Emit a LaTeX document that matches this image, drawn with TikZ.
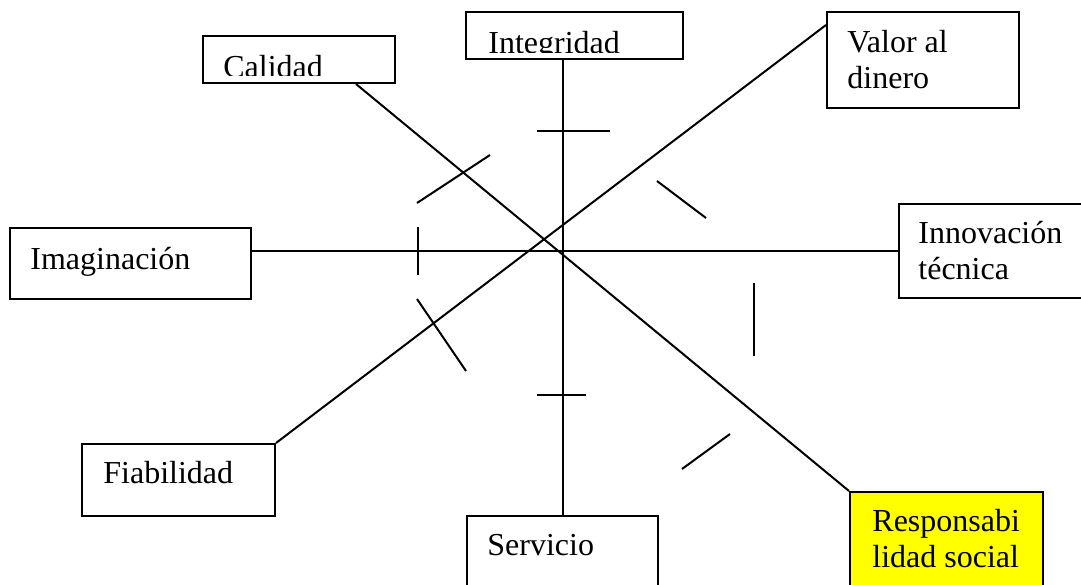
\documentclass[tikz,border=0pt]{standalone}
\usepackage{xcolor}
\usepackage{fontspec}
\setmainfont{Liberation Serif}
\usepackage{tikz}

\definecolor{respyellow}{RGB}{255,255,0}

\begin{document}
\begin{tikzpicture}[x=0.5pt,y=-0.5pt]
	\tikzstyle{box}=[draw,rectangle,line width=1pt,inner sep=0pt,anchor=north west]
	\tikzstyle{boxtext}=[inner sep=0pt,anchor=base west,align=left,font=\fontsize{16pt}{18pt}\selectfont]
	\tikzset{spoke/.style = {line width=1pt}, hatch/.style = {line width=1pt}}
	
	\useasboundingbox (0,0) rectangle (1081,584);
	\clip (0,0) rectangle (1081,584);
	
	% cajas
	\node[box, minimum width=96pt, minimum height=23.5pt](cal) at (202,35) {};
	\node[box, minimum width=108.5pt, minimum height=23.5pt](integ) at (465,11) {};
	\node[box, minimum width=96pt, minimum height=48pt](valor) at (826,11) {};
	\node[box, minimum width=120.5pt, minimum height=35.5pt](imag) at (9,227) {};
	\node[box, minimum width=100pt, minimum height=47pt](innov) at (898,203) {};
	\node[box, minimum width=96.5pt, minimum height=36pt](fiab) at (81,443) {};
	\node[box, minimum width=95.5pt, minimum height=50pt](serv) at (466,515) {};
	\node[box, fill=respyellow, minimum width=96.5pt, minimum height=60pt](resp) at (849,491) {};
	
	% textos
	\begin{scope}
		\clip (cal.north west) rectangle ([yshift=4.5pt]cal.south east);
		\node[boxtext](calT) at (223,77) {Calidad};
	\end{scope}
	\begin{scope}
		\clip (integ.north west) rectangle ([yshift=4pt]integ.south east);
		\node[boxtext](integT) at (488,53) {Integridad};
	\end{scope}
	\node[boxtext](valorT) at (847,88) {Valor al\\dinero};
	\node[boxtext](imagT) at (30,269) {Imaginación};
	\node[boxtext](innovT) at (918,279) {Innovación\\técnica};
	\node[boxtext](fiabT) at (103,483) {Fiabilidad};
	\node[boxtext](servT) at (487,555) {Servicio};
	\node[boxtext](respT) at (872,567) {Responsabi\\lidad social};
	
	% ejes
	\draw[spoke] (integ.south -| serv.north) -- (serv.north);
	\draw[spoke] (imag.east |- innov.west) -- (innov.west);
	\draw[spoke] ([xshift=28.5pt]cal.south) -- (resp.north west);
	\draw[spoke] ([yshift=17.5pt]valor.west) -- (fiab.north east);
	
	% marcas
	\draw[hatch] (417,203) -- (490,155);
	\draw[hatch] (537,131) -- (610,131);
	\draw[hatch] (418,227) -- (418,275);
	\draw[hatch] (657,181) -- (706,218);
	\draw[hatch] (417,299) -- (466,371);
	\draw[hatch] (537,395) -- (586,395);
	\draw[hatch] (754,283) -- (754,356);
	\draw[hatch] (682,469) -- (730,434);
\end{tikzpicture}
\end{document}
